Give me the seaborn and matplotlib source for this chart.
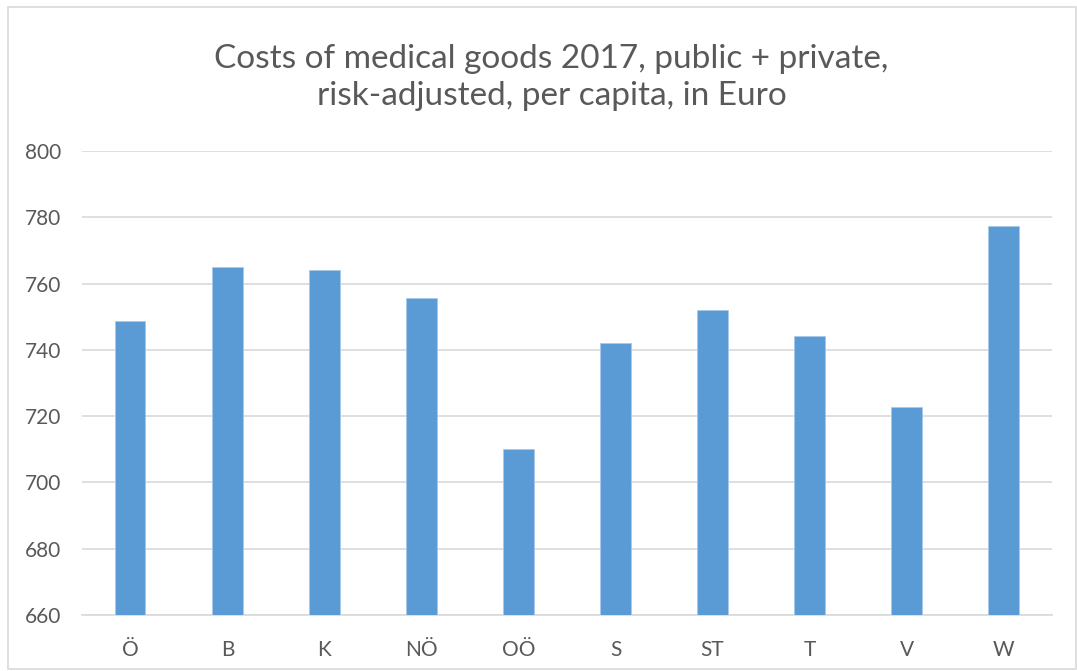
import pandas as pd
import matplotlib.pyplot as plt
import seaborn as sns
from matplotlib.patches import Rectangle

# Values
regions = ['Ö', 'B', 'K', 'NÖ', 'OÖ', 'S', 'ST', 'T', 'V', 'W']
costs = [748.8, 765.0, 764.0, 755.5, 710.0, 742.0, 752.0, 744.1, 722.8, 777.4]
y_ticks = [660, 680, 700, 720, 740, 760, 780, 800]

title = 'Costs of medical goods 2017, public + private,\nrisk-adjusted, per capita, in Euro'


def main():
    sns.set_style('white')
    plt.rcParams['font.family'] = ['Lato', 'DejaVu Sans']

    data = pd.DataFrame({'Region': regions, 'Cost': costs})

    fig = plt.figure(figsize=(10.77, 6.71), dpi=100)
    ax = fig.add_axes([0.0761, 0.0835, 0.9007, 0.6915])

    sns.barplot(data=data, x='Region', y='Cost', color='#5b9bd5',
                width=0.31, saturation=1, edgecolor='#a9c9ea',
                linewidth=0.6, ax=ax, zorder=3)

    ax.set_ylim(660, 800)
    ax.set_xlim(-0.5, len(regions) - 0.5)
    ax.set_yticks(y_ticks)
    ax.yaxis.grid(True, color='#d9d9d9', linewidth=1.2, zorder=0)
    ax.set_axisbelow(True)
    for side in ['top', 'right', 'left']:
        ax.spines[side].set_visible(False)
    ax.spines['bottom'].set_color('#d9d9d9')
    ax.spines['bottom'].set_linewidth(1.2)
    ax.tick_params(axis='both', length=0, labelsize=15, colors='#595959')
    ax.tick_params(axis='y', pad=15)
    ax.tick_params(axis='x', pad=18)
    ax.set_xlabel('')
    ax.set_ylabel('')

    fig.text(0.512, 0.885, title, ha='center', va='center',
             fontsize=24, color='#595959', linespacing=1.3)

    # light border around the chart area
    fig.patches.append(Rectangle((8 / 1077, 2 / 671), 1068 / 1077, 662 / 671,
                                 transform=fig.transFigure, fill=False,
                                 edgecolor='#d9d9d9', linewidth=1.2))

    fig.savefig('out.png', dpi=100)


if __name__ == '__main__':
    main()
